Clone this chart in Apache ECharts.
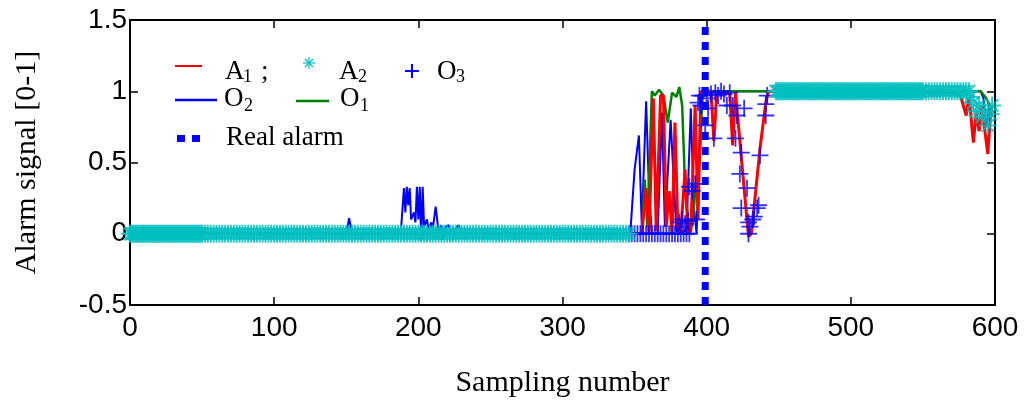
<!DOCTYPE html>
<html><head><meta charset="utf-8">
<script src="https://cdn.jsdelivr.net/npm/echarts@6/dist/echarts.min.js"></script>
<style>html,body{margin:0;padding:0;background:#fff}#c{width:1033px;height:403px}</style>
</head><body><div id="c"></div>
<script>
// ---- data ----
const xTicks = [0, 100, 200, 300, 400, 500, 600];
const yTicks = [-0.5, 0, 0.5, 1, 1.5];
const realAlarm = 399;

// A1 (red line): [sample, value] key points
const A1 = [[0,0],[347,0],[355,0],[358,0.32],[360,0],[363,0.95],[365,0.02],[368,0.97],[370,0.97],[372,0.05],[374,0.3],[376,0],[378,0.78],[380,0.05],[382,0],[385,0.45],[387,0],[389,0.02],[392,0.9],[394,0.1],[396,1.0],[398,0.98],[400,1.0],[403,1.0],[405,0.65],[407,0.98],[416,0.99],[418,0.62],[420,0.99],[421,0.98],[429,-0.02],[431,0],[437,0.6],[441,0.92],[443,1.0],[446,1.0],[449,1.03],[451,1.0],[570,0.99],[576,0.97],[580,0.83],[582,0.97],[585,0.64],[587,0.85],[589,0.72],[591,0.9],[593,0.72],[595,0.56],[597,0.85],[598,0.9]];

// O1 (green line)
const O1 = [[0,0],[355,0],[357,0.38],[359,0.05],[362,1.0],[364,0.97],[367,1.01],[370,0.97],[373,0.78],[376,0.99],[379,0.96],[381,1.03],[383,0.9],[385,0.34],[387,0.1],[390,0.05],[393,0.4],[395,0.5],[397,0.95],[400,1.0],[590,1.0],[594,0.95],[597,0.88],[598,0.85]];

// O2 (blue line)
const O2 = [[0,0],[150,0],[152,0.11],[154,0],[180,0],[182,0.02],[185,0],[188,0.03],[190,0.32],[191,0.15],[192,0.33],[193,0.2],[194,0.32],[195,0.1],[197,0.15],[198,0.08],[199,0.33],[200,0.1],[201,0.33],[202,-0.05],[203,0.33],[204,0.05],[206,0.1],[207,0.03],[209,0.08],[210,0.03],[212,0.19],[214,0.02],[216,0.06],[217,-0.04],[219,0.05],[221,0.06],[223,0],[226,0.04],[228,0.06],[230,0],[347,0],[350,0.45],[353,0.69],[355,0.05],[358,0.93],[360,0.3],[362,0],[366,0],[369,0.85],[371,0.05],[375,0.8],[377,0.4],[379,0.02],[386,0.02],[389,0.88],[391,0.2],[393,0],[396,0.95],[398,1.0],[590,1.0],[592,0.95],[594,0.75],[596,0.9],[598,0.82]];

// A2 (cyan asterisks): runs [start, end, value, sampleStep] + single points
const A2Runs = [[0,49,0,1],[50,347,0,2],[448,549,1,1],[550,582,1,2]];
const A2Points = [[583,0.96],[585,0.92],[587,0.86],[589,0.9],[591,0.82],[593,0.86],[595,0.76],[597,0.84],[598,0.9]];

// O3 (blue plus markers)
const O3Runs = [[346,389,0,2]];
const O3Points = [[381,0.08],[383,0.1],[385,0.07],[387,0.09],[388,0.33],[390,0.3],[392,0.35],[393,0.1],[394,0.92],[395,0.97],[396,0.9],[397,0.97],[399,0.76],[400,0.95],[401,0.88],[403,0.98],[405,0.67],[406,0.99],[408,0.97],[410,1.0],[412,0.98],[414,0.9],[416,0.99],[418,0.9],[420,0.67],[421,0.83],[423,0.42],[424,0.57],[424,0.18],[426,0.88],[428,0.32],[429,0.08],[429,0],[430,0.05],[432,0.1],[433,0.12],[435,0.18],[436,0.2],[437,0.55],[441,0.83],[441,0.91],[442,0.97]];

// ---- build ----
function expandRuns(runs) {
  const out = [];
  runs.forEach(([a, b, v, st]) => { for (let s = a; s <= b; s += st) out.push([s, v]); });
  return out;
}
const A2 = expandRuns(A2Runs).concat(A2Points);
const O3 = expandRuns(O3Runs).concat(O3Points);

const RED = '#FF0000', BLUE = '#0000FF', GREEN = '#008000', CYAN = '#00BFBF';
const plusPath = 'path://M10,0 L10,20 M0,10 L20,10';
const starPath = 'path://M10,0 L10,20 M0,10 L20,10 M2.93,2.93 L17.07,17.07 M2.93,17.07 L17.07,2.93';

const sans = '"Liberation Sans", Arial, sans-serif';
const serif = '"Liberation Serif", "Times New Roman", serif';

function axisCommon(extra) {
  return Object.assign({
    type: 'value',
    axisLine: { show: true, onZero: false, lineStyle: { color: '#000', width: 2 } },
    axisTick: { show: true, inside: true, length: 8, lineStyle: { color: '#000', width: 1.5 } },
    splitLine: { show: false }
  }, extra);
}

const chart = echarts.init(document.getElementById('c'), null, { renderer: 'canvas' });

const legendFont = '27px ' + serif;
const subFont = '18px ' + serif;
function txt(x, y, t, font) {
  return { type: 'text', x: x, y: y, z: 100,
    style: { text: t, font: font, fill: '#000', align: 'left', verticalAlign: 'middle', textAlign: 'left', textVerticalAlign: 'middle' } };
}
function seg(x1, y1, x2, y2, color, w) {
  return { type: 'line', z: 100, shape: { x1: x1, y1: y1, x2: x2, y2: y2 }, style: { stroke: color, lineWidth: w } };
}

const graphic = [
  // row 1
  seg(175, 66, 202, 66, RED, 2),
  txt(225, 72, 'A', legendFont), txt(243, 77, '1', subFont), txt(261, 72, ';', legendFont),
  seg(309, 57, 309, 69, CYAN, 1.2), seg(303, 63, 315, 63, CYAN, 1.2),
  seg(305, 59, 313, 67, CYAN, 1.2), seg(305, 67, 313, 59, CYAN, 1.2),
  txt(339, 72, 'A', legendFont), txt(358, 77, '2', subFont),
  seg(412, 64, 412, 78, BLUE, 2), seg(405, 71, 419, 71, BLUE, 2),
  txt(437, 72, 'O', legendFont), txt(456, 77, '3', subFont),
  // row 2
  seg(175, 100, 217, 100, BLUE, 2.5),
  txt(224, 99, 'O', legendFont), txt(244, 106, '2', subFont),
  seg(296, 101, 329, 101, GREEN, 2.5),
  txt(340, 99, 'O', legendFont), txt(360, 106, '1', subFont),
  // row 3
  { type: 'rect', z: 100, shape: { x: 177, y: 135, width: 8, height: 7 }, style: { fill: BLUE } },
  { type: 'rect', z: 100, shape: { x: 192, y: 135, width: 8, height: 7 }, style: { fill: BLUE } },
  txt(226, 138, 'Real alarm', legendFont)
];

chart.setOption({
  animation: false,
  backgroundColor: '#fff',
  grid: { left: 130, right: 38, top: 20, bottom: 98, containLabel: false },
  xAxis: [
    axisCommon({ position: 'bottom', min: 0, max: 600, interval: 100,
      axisLabel: { show: true, color: '#000', fontFamily: sans, fontSize: 28, margin: 9,
        formatter: v => (xTicks.indexOf(v) >= 0 ? String(v) : '') },
      name: 'Sampling number', nameLocation: 'middle', nameGap: 63,
      nameTextStyle: { color: '#000', fontFamily: serif, fontSize: 30 } }),
    axisCommon({ position: 'top', min: 0, max: 600, interval: 100, axisLabel: { show: false } })
  ],
  yAxis: [
    axisCommon({ position: 'left', min: -0.5, max: 1.5, interval: 0.5,
      axisLabel: { show: true, color: '#000', fontFamily: sans, fontSize: 28, margin: 3,
        formatter: v => (yTicks.indexOf(v) >= 0 ? String(v) : '') },
      name: 'Alarm signal [0-1]', nameLocation: 'middle', nameGap: 88,
      nameTextStyle: { color: '#000', fontFamily: serif, fontSize: 30 } }),
    axisCommon({ position: 'right', min: -0.5, max: 1.5, interval: 0.5, axisLabel: { show: false } })
  ],
  series: [
    { name: 'O2', type: 'line', z: 2, data: O2, showSymbol: false, lineStyle: { color: BLUE, width: 2 }, itemStyle: { color: BLUE } },
    { name: 'O1', type: 'line', z: 3, data: O1, showSymbol: false, lineStyle: { color: GREEN, width: 2.5 }, itemStyle: { color: GREEN } },
    { name: 'A1', type: 'line', z: 4, data: A1, showSymbol: false, lineStyle: { color: RED, width: 3 }, itemStyle: { color: RED } },
    { name: 'O3', type: 'scatter', z: 5, data: O3, symbol: plusPath, symbolSize: 17,
      itemStyle: { color: 'rgba(0,0,0,0)', borderColor: BLUE, borderWidth: 1.8 } },
    { name: 'A2', type: 'scatter', z: 6, data: A2, symbol: starPath, symbolSize: 18,
      itemStyle: { color: 'rgba(0,0,0,0)', borderColor: CYAN, borderWidth: 2 } },
    { name: 'Real alarm', type: 'line', z: 7, data: [[realAlarm, -0.5], [realAlarm, 1.5]], showSymbol: false,
      lineStyle: { color: BLUE, width: 7, type: [8, 7], cap: 'butt' } }
  ],
  graphic: graphic
});
</script>
</body></html>
